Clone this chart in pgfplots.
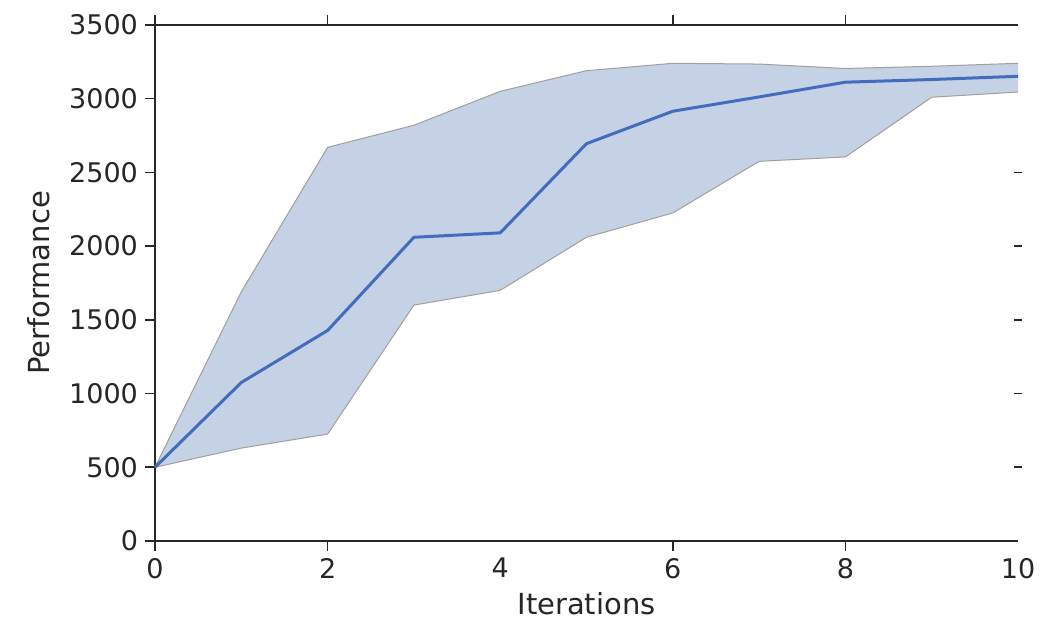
\documentclass[border=0pt]{standalone}
\usepackage{pgfplots}
\pgfplotsset{compat=1.18}
\usepgfplotslibrary{fillbetween}
\usepackage{fontspec}
\setmainfont{DejaVu Sans}
\definecolor{bandfill}{RGB}{197,209,229}
\definecolor{bandedge}{RGB}{160,160,160}
\definecolor{meanline}{RGB}{68,108,190}
\definecolor{axcol}{RGB}{40,40,40}
\definecolor{txtcol}{RGB}{38,38,38}
\begin{document}
\begin{tikzpicture}
\begin{axis}[
  name=main,
  scale only axis,
  width=431.5pt, height=258pt,
  xmin=0, xmax=10, ymin=0, ymax=3500,
  axis y line*=left,
  axis line style={axcol, line width=0.8pt},
  every tick/.style={axcol, line width=0.8pt},
  tick align=outside,
  major tick length=5pt,
  xtick={0,2,6,8},
  extra x ticks={4,10},
  extra x tick style={tick style={draw=none}},
  ytick={0,500,1000,1500,2000,2500,3000,3500},
  xtick pos=both,
  xticklabel pos=bottom,
  /pgf/number format/assume math mode=true,
  /pgf/number format/1000 sep={},
  tick label style={font=\fontsize{13.5}{16}\selectfont, text=txtcol},
  label style={font=\fontsize{14.5}{17}\selectfont, text=txtcol},
  xlabel={Iterations},
  ylabel={Performance},
  xlabel style={yshift=10pt},
  ylabel style={yshift=3pt},
  clip=false,
]
\addplot[name path=up, draw=bandedge, line width=0.5pt] coordinates {
 (0,500) (1,1690) (2,2670) (3,2820) (4,3050) (5,3190) (6,3240) (7,3235) (8,3205) (9,3220) (10,3240)};
\addplot[name path=lo, draw=bandedge, line width=0.5pt] coordinates {
 (0,500) (1,630) (2,725) (3,1600) (4,1700) (5,2060) (6,2225) (7,2575) (8,2605) (9,3010) (10,3045)};
\addplot[bandfill] fill between[of=up and lo];
\addplot[meanline, line width=1.5pt] coordinates {
 (0,500) (1,1075) (2,1428) (3,2060) (4,2090) (5,2695) (6,2915) (7,3012) (8,3112) (9,3130) (10,3152)};
\end{axis}
\begin{axis}[
  scale only axis,
  width=431.5pt, height=258pt,
  xmin=0, xmax=10, ymin=0, ymax=3500,
  hide x axis,
  axis y line*=right,
  y axis line style={draw=none},
  every tick/.style={axcol, line width=0.8pt},
  tick align=center,
  major tick length=4pt,
  ytick={500,1000,1500,2000,2500},
  yticklabels={},
]
\end{axis}
\path ([xshift=-77.5pt,yshift=-41pt]main.south west) rectangle ([xshift=17.5pt,yshift=12.5pt]main.north east);
\end{tikzpicture}
\end{document}
